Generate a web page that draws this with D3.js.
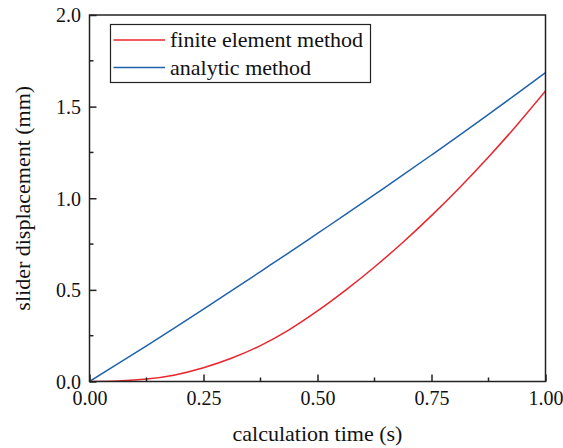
<!DOCTYPE html>
<html>
<head>
<meta charset="utf-8">
<script src="https://cdn.jsdelivr.net/npm/d3@7/dist/d3.min.js"></script>
<style>
  html, body { margin: 0; padding: 0; background: #fff; }
  svg { display: block; }
  text { font-family: "Liberation Serif", "Times New Roman", serif; fill: #111; }
</style>
</head>
<body>
<svg id="chart" width="563" height="448"></svg>
<script>
// calculation time samples (s)
const timeSteps = [0, 0.0625, 0.125, 0.1875, 0.25, 0.3125, 0.375, 0.4375, 0.5,
                   0.5625, 0.625, 0.6875, 0.75, 0.8125, 0.875, 0.9375, 1.0];
// slider displacement (mm), finite element method
const feValues = [0, 0.003, 0.013, 0.036, 0.075, 0.128, 0.196, 0.282, 0.385,
                  0.500, 0.625, 0.760, 0.905, 1.060, 1.225, 1.400, 1.585];
// slider displacement (mm), analytic method
const analyticValues = [0, 0.097, 0.195, 0.294, 0.395, 0.497, 0.600, 0.703, 0.808,
                        0.913, 1.020, 1.127, 1.236, 1.346, 1.458, 1.571, 1.685];

const seriesNames = ["finite element method", "analytic method"];
const xTicks = [0, 0.25, 0.5, 0.75, 1.0];
const yTicks = [0, 0.5, 1.0, 1.5, 2.0];
const xMinorTicks = [0.125, 0.375, 0.625, 0.875];
const yMinorTicks = [0.25, 0.75, 1.25, 1.75];
const xTitle = "calculation time (s)";
const yTitle = "slider displacement (mm)";

const colors = ["#e8262e", "#1f62ae"];
const plot = { left: 89.5, right: 545.5, top: 15, bottom: 381.5 };

const svg = d3.select("#chart");
const x = d3.scaleLinear().domain([0, 1]).range([plot.left, plot.right]);
const y = d3.scaleLinear().domain([0, 2]).range([plot.bottom, plot.top]);

// data lines
const series = [feValues, analyticValues];
const line = d3.line()
  .x((d, i) => x(timeSteps[i]))
  .y(d => y(d))
  .curve(d3.curveMonotoneX);

svg.append("clipPath").attr("id", "plotClip")
  .append("rect")
  .attr("x", plot.left).attr("y", plot.top)
  .attr("width", plot.right - plot.left).attr("height", plot.bottom - plot.top);

// analytic drawn first so the finite element curve sits on top near the origin
[1, 0].forEach(k => {
  svg.append("path")
    .datum(series[k])
    .attr("d", line)
    .attr("fill", "none")
    .attr("stroke", colors[k])
    .attr("stroke-width", 1.5)
    .attr("clip-path", "url(#plotClip)");
});

// frame
svg.append("rect")
  .attr("x", plot.left).attr("y", plot.top)
  .attr("width", plot.right - plot.left).attr("height", plot.bottom - plot.top)
  .attr("fill", "none").attr("stroke", "#222").attr("stroke-width", 1.5);

// bottom axis (inward ticks)
const xAxis = svg.append("g").attr("transform", `translate(0,${plot.bottom})`)
  .call(d3.axisBottom(x).tickValues(xTicks).tickSizeInner(-7).tickSizeOuter(0)
    .tickFormat(d3.format(".2f")));
xAxis.select(".domain").remove();
xAxis.selectAll(".tick line").attr("stroke", "#222").attr("stroke-width", 1.5);
xAxis.selectAll(".tick text")
  .attr("y", 23.5).attr("dy", null)
  .style("font-family", "'Liberation Serif', serif")
  .style("font-size", "20px").attr("fill", "#111");
xMinorTicks.forEach(v => {
  svg.append("line")
    .attr("x1", x(v)).attr("x2", x(v))
    .attr("y1", plot.bottom).attr("y2", plot.bottom - 4)
    .attr("stroke", "#222").attr("stroke-width", 1.5);
});

// left axis (inward ticks)
const yAxis = svg.append("g").attr("transform", `translate(${plot.left},0)`)
  .call(d3.axisLeft(y).tickValues(yTicks).tickSizeInner(-7).tickSizeOuter(0)
    .tickFormat(d3.format(".1f")));
yAxis.select(".domain").remove();
yAxis.selectAll(".tick line").attr("stroke", "#222").attr("stroke-width", 1.5);
yAxis.selectAll(".tick text")
  .attr("x", -8.5).attr("dy", "0.34em")
  .style("font-family", "'Liberation Serif', serif")
  .style("font-size", "20px").attr("fill", "#111");
yMinorTicks.forEach(v => {
  svg.append("line")
    .attr("x1", plot.left).attr("x2", plot.left + 4)
    .attr("y1", y(v)).attr("y2", y(v))
    .attr("stroke", "#222").attr("stroke-width", 1.5);
});

// axis titles
svg.append("text")
  .attr("x", (plot.left + plot.right) / 2).attr("y", 441)
  .attr("text-anchor", "middle")
  .style("font-size", "22px")
  .text(xTitle);

svg.append("text")
  .attr("transform", `translate(30,${(plot.top + plot.bottom) / 2}) rotate(-90)`)
  .attr("text-anchor", "middle")
  .style("font-size", "22px")
  .text(yTitle);

// legend
const legend = svg.append("g");
legend.append("rect")
  .attr("x", 110.5).attr("y", 24.5)
  .attr("width", 260).attr("height", 58)
  .attr("fill", "#fff").attr("stroke", "#222").attr("stroke-width", 1.2);
seriesNames.forEach((name, i) => {
  const ly = 40 + i * 27.5;
  legend.append("line")
    .attr("x1", 113.5).attr("x2", 165)
    .attr("y1", ly).attr("y2", ly)
    .attr("stroke", colors[i]).attr("stroke-width", 1.5);
  legend.append("text")
    .attr("x", 170).attr("y", ly + 7)
    .style("font-size", "22px")
    .text(name);
});
</script>
</body>
</html>
